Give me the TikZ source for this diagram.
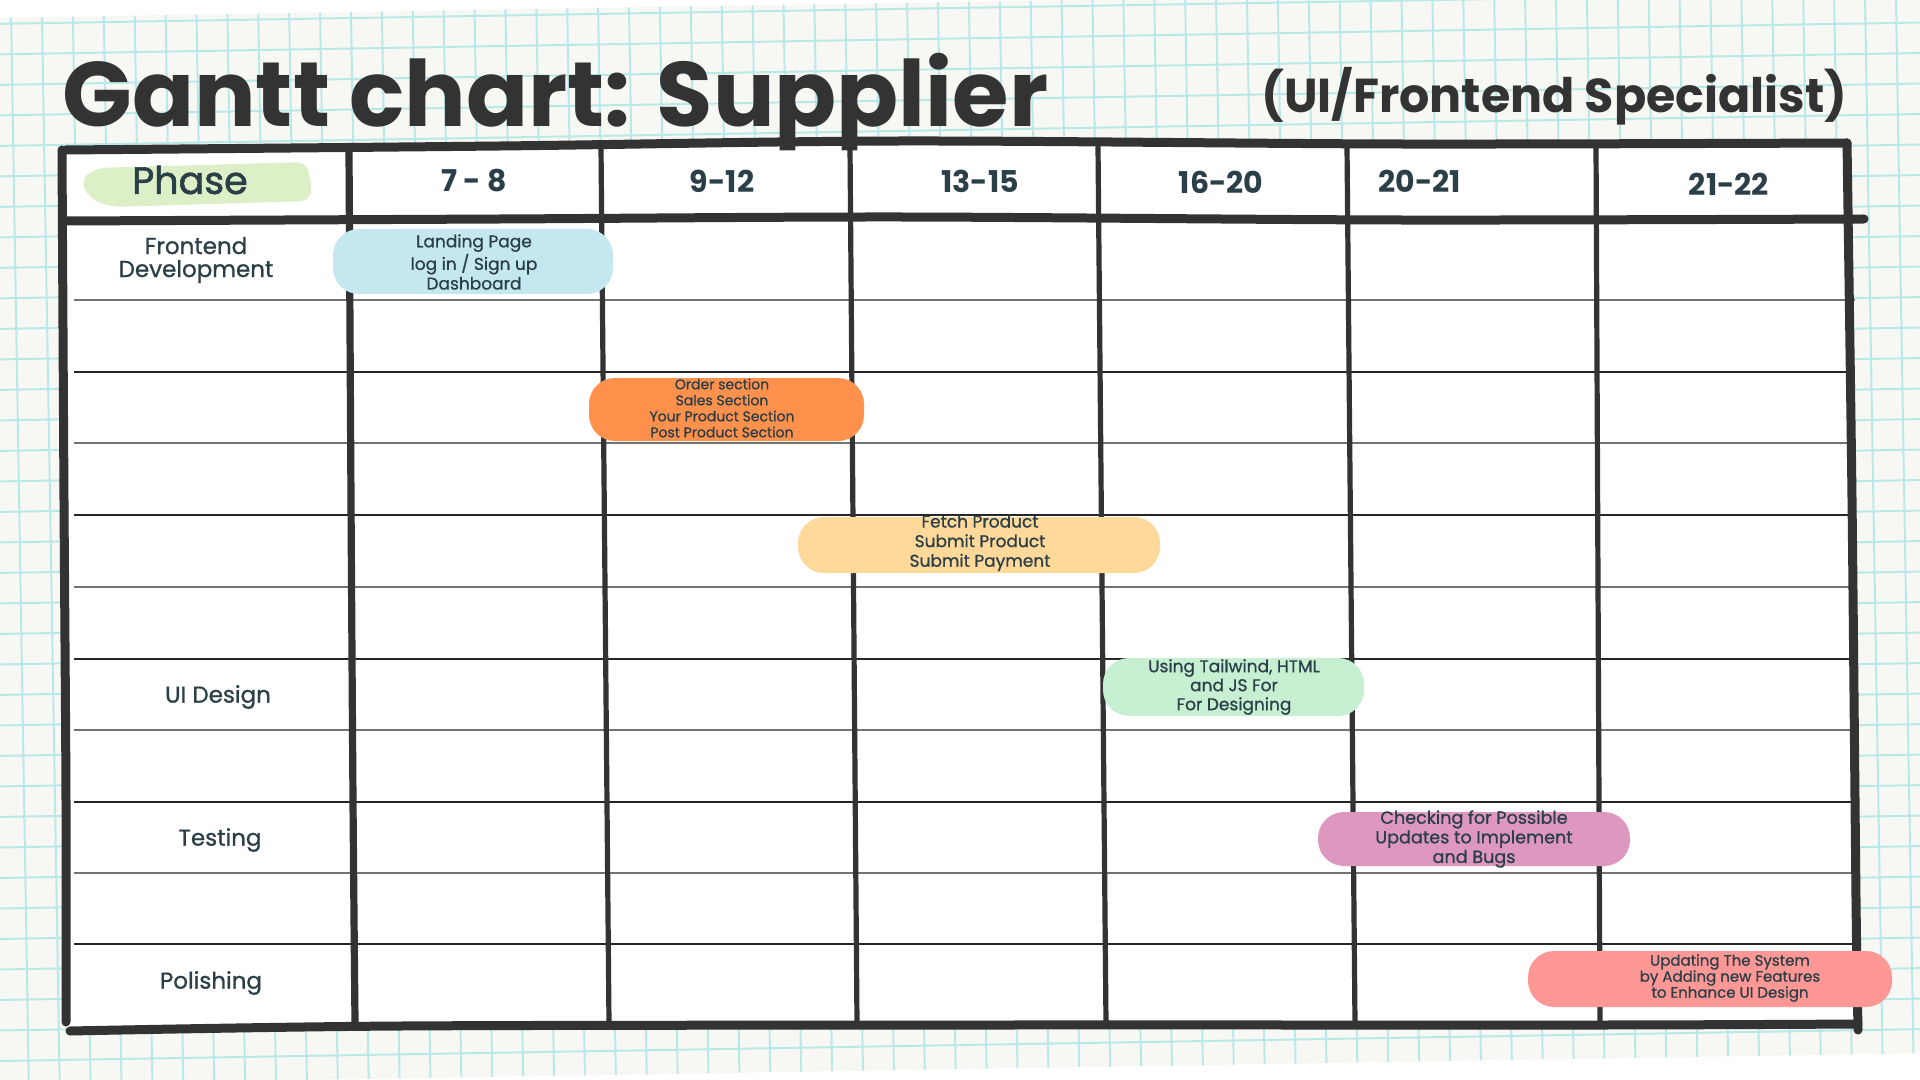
\documentclass[tikz,border=0pt]{standalone}
\usepackage{fontspec}
\usepackage{graphicx}
\setmainfont{Poppins}
\newfontfamily\handfont{Poppins}[FakeBold=0.9]
\newfontfamily\phasefont{Poppins}[FakeBold=1.6]
\definecolor{paper}{HTML}{F7F7F3}
\definecolor{gridc}{HTML}{B9E8E9}
\definecolor{ink}{HTML}{333333}
\definecolor{txt}{HTML}{2B3F48}
\definecolor{hl}{HTML}{DDEFC7}
\definecolor{cblue}{HTML}{C5E8F0}
\definecolor{corange}{HTML}{FF914D}
\definecolor{cyellow}{HTML}{FFD999}
\definecolor{cgreen}{HTML}{C6F0D1}
\definecolor{cpink}{HTML}{DE97BE}
\definecolor{csalmon}{HTML}{FF9795}
\tikzset{
  border/.style={draw=ink, line width=4.5pt, line cap=round, line join=round},
  colline/.style={draw=ink, line width=2.6pt, line cap=round},
  rowA/.style={draw=black!85, line width=0.7pt},
  rowB/.style={draw=black!55, line width=1pt},
  bar/.style={rounded corners=13pt, inner sep=0pt},
  bartext/.style={text=txt, align=center, inner sep=0pt},
  head/.style={text=txt, font=\bfseries\fontsize{15}{18}\selectfont, inner sep=0pt},
  rowlabel/.style={text=txt, font=\handfont\fontsize{11.5}{11.5}\selectfont, align=center, inner sep=0pt},
}
\begin{document}
\begin{tikzpicture}[x=0.5pt,y=-0.5pt]
\useasboundingbox (0,0) rectangle (1920,1080);
\fill[white] (0,0) rectangle (1920,1080);
% grid paper
\begin{scope}[rotate around={0.95:(960,540)}]
  \fill[paper] (-100,2) rectangle (2020,1069);
  \clip (-100,2) rectangle (2020,1069);
  \foreach \i in {-4,...,68} \draw[gridc, line width=1pt] ({-11+30.9*\i},2) -- ({-11+30.9*\i},1069);
  \foreach \j in {0,...,35} \draw[gridc, line width=1pt] (-100,{8+30.5*\j}) -- (2020,{8+30.5*\j});
\end{scope}
% table body
\fill[white] (64,148) -- (1847,144) -- (1858,1028) -- (68,1028) -- cycle;
\fill[hl, rounded corners=5pt] (80,180) -- (96,168) -- (306,162) -- (312,184) -- (310,201) -- (112,207) -- (90,199) -- cycle;
% row lines
\foreach \yy/\st in {300/rowB,372/rowA,443/rowB,515/rowA,587/rowB,659/rowA,730/rowB,802/rowA,873/rowB,944/rowA}
  \draw[\st] (74,\yy) -- (1855,\yy);
% column lines
\draw[border, line width=3.6pt] plot[smooth] coordinates {(349,150) (351,500) (353,800) (355,1022)};
\foreach \xa/\xb in {601/609, 850/857, 1098/1106, 1347/1355, 1596/1600}
  \draw[colline] (\xa,147) -- (\xb,1024);
% borders
\draw[border] plot[smooth] coordinates {(66,150) (500,146) (900,141) (1400,144) (1847,143)};
\draw[border] plot[smooth] coordinates {(66,221) (500,219) (900,217) (1400,220) (1864,219)};
\draw[border] plot[smooth] coordinates {(62,150) (64,500) (66,800) (66,1022)};
\draw[border] plot[smooth] coordinates {(1847,143) (1852,500) (1856,900) (1858,1030)};
\draw[border] plot[smooth] coordinates {(70,1031) (400,1026) (1000,1025) (1600,1025) (1858,1024)};
% title
\node[anchor=base west, inner sep=0pt, text=ink] (title) at (62,127) {\resizebox{493pt}{!}{\bfseries Gantt chart: Supplier}};
\node[anchor=base west, inner sep=0pt, text=ink] (subtitle) at (1261,113) {\resizebox{293pt}{!}{\bfseries (UI/Frontend Specialist)}};
% header
\node[text=txt, font=\phasefont\fontsize{19}{20}\selectfont, inner sep=0pt] (phase) at (190,180) {Phase};
\node[head] (h1) at (474,181) {7 - 8};
\node[head] (h2) at (722,181) {9-12};
\node[head] (h3) at (980,181) {13-15};
\node[head] (h4) at (1221,182) {16-20};
\node[head] (h5) at (1420,181) {20-21};
\node[head] (h6) at (1729,184) {21-22};
% row labels
\node[rowlabel] (lfd) at (196,260) {Frontend\\Development};
\node[rowlabel] (lui) at (218,697) {UI Design};
\node[rowlabel] (lt) at (220,840) {Testing};
\node[rowlabel] (lp) at (211,983) {Polishing};
% bars
\node[bar, fill=cblue, minimum width=140pt, minimum height=32.5pt] (b1) at (473,261.5) {};
\node[bartext, font=\handfont\fontsize{8.5}{9.8}\selectfont] (t1) at (474,262) {Landing Page\\log in / Sign up\\Dashboard};
\node[bar, fill=corange, minimum width=137.5pt, minimum height=31.5pt] (b2) at (726.5,409.5) {};
\node[bartext, font=\handfont\fontsize{7}{8}\selectfont] (t2) at (722,408) {Order section\\Sales Section\\Your Product Section\\Post Product Section};
\node[bar, fill=cyellow, minimum width=181pt, minimum height=28pt] (b3) at (979,545) {};
\node[bartext, font=\handfont\fontsize{8.5}{9.8}\selectfont] (t3) at (980,543) {Fetch Product\\Submit Product\\Submit Payment};
\node[bar, fill=cgreen, minimum width=130.5pt, minimum height=29pt] (b4) at (1233.5,687) {};
\node[bartext, font=\handfont\fontsize{8.5}{9.5}\selectfont] (t4) at (1234,687) {Using Tailwind, HTML\\and JS For\\For Designing};
\node[bar, fill=cpink, minimum width=156pt, minimum height=27pt] (b5) at (1474,839) {};
\node[bartext, font=\handfont\fontsize{8.8}{9.8}\selectfont] (t5) at (1474,839) {Checking for Possible\\Updates to Implement\\and Bugs};
\node[bar, fill=csalmon, minimum width=182pt, minimum height=28pt] (b6) at (1710,979) {};
\node[bartext, font=\handfont\fontsize{7.5}{8}\selectfont] (t6) at (1730,978) {Updating The System\\by Adding new Features\\to Enhance UI Design};
\end{tikzpicture}
\end{document}
